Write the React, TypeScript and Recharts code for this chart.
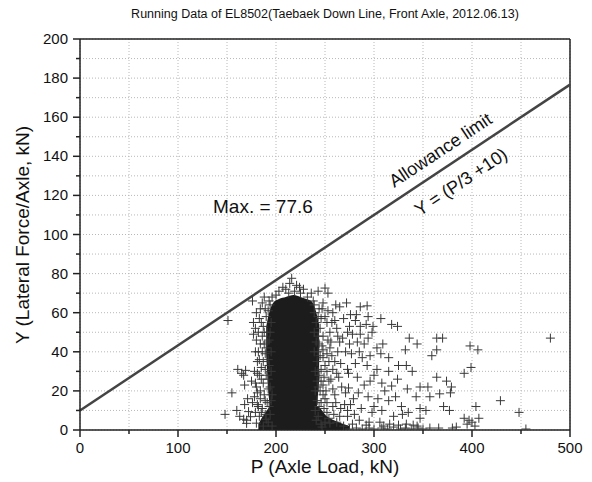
import React from "react";
import {
  ComposedChart,
  Scatter,
  Area,
  XAxis,
  YAxis,
  CartesianGrid,
  ReferenceLine,
} from "recharts";

const FONT = "'Liberation Sans', Arial, sans-serif";

// axis ticks
const xTicks = [0, 50, 100, 150, 200, 250, 300, 350, 400, 450, 500];
const yTicks = [0, 10, 20, 30, 40, 50, 60, 70, 80, 90, 100, 110, 120, 130, 140, 150, 160, 170, 180, 190, 200];

// allowance limit Y = P/3 + 10, end points
const limitP = [0, 500];
const limitY = [10, 176.67];

// dense core of the cloud (too many overlapping marks to count): outline as range per P
const coreP = [190, 193, 197, 203, 210, 218, 225, 231, 236, 240, 244];
const coreLo = [38, 15, 3, 0, 0, 0, 0, 0, 0, 5, 25];
const coreHi = [53, 60, 65, 67, 68, 69, 68, 67, 66, 62, 54];

// dark band at the bottom of the cloud
const baseP = [182, 188, 195, 242, 252, 264, 275];
const baseHi = [3, 8, 12, 12, 7, 4, 2];

// single readable marks, [P, Y]
const leftSparse = [
  [151, 56], [155, 19], [148, 8], [160, 10], [163, 7], [167, 5.5], [170, 3.4], [172, 9.4],
  [174, 6.8], [161, 31], [165, 29], [169, 30.5], [168, 13], [171, 16],
];

const leftHalo = [
  [176, 66], [177, 55], [179, 52], [177, 49], [184, 62], [190, 58], [187, 53], [184, 44],
  [189, 39], [185, 32], [187, 35], [167, 28], [168, 23], [179, 24], [175, 25], [181, 19],
  [190, 28], [192, 21], [176, 14], [186, 11], [170, 5], [180, 3.5], [190, 5.5], [193, 46],
  [193, 66], [183, 57], [186, 48], [191, 50], [182, 40], [188, 44], [192, 36], [183, 28],
  [187, 24], [184, 16], [189, 15], [193, 12], [179, 9], [183, 7], [187, 2], [194, 8],
  [181, 35], [192, 61], [195, 55], [195, 40], [195, 30], [196, 18], [178, 17], [182, 12],
  [180, 60], [186, 65], [189, 62], [182, 50], [185, 55], [188, 50], [191, 45], [194, 50],
  [180, 46], [183, 36], [186, 40], [190, 42], [193, 33], [181, 29], [185, 26], [189, 31],
  [192, 26], [194, 22], [180, 22], [184, 20], [188, 18], [191, 14], [195, 15], [181, 13],
  [185, 9], [189, 8], [192, 4], [196, 2], [178, 30], [179, 40], [188, 68], [194, 64],
];

const topHalo = [
  [196, 68], [203, 71], [210, 72], [216, 77.6], [221, 74], [228, 72], [236, 70], [200, 69],
  [207, 73], [213, 70], [219, 71], [225, 70], [232, 68], [238, 66], [243, 71], [250, 72.6],
  [253, 70], [248, 65], [214, 75], [224, 73],
];

const rightHalo = [
  [258, 60], [269, 57], [252, 55], [262, 52], [273, 50], [248, 48], [265, 45], [255, 42],
  [271, 40], [248, 37], [260, 35], [273, 31], [252, 30], [264, 27], [248, 23], [258, 21],
  [271, 19], [250, 16], [261, 14], [273, 10], [252, 9], [265, 7], [255, 3.5], [269, 2],
  [247, 1.5], [272, 65], [265, 63], [239, 60], [241, 55], [239, 50], [241, 45], [239, 40],
  [242, 35], [240, 30], [242, 25], [240, 20], [242, 15], [240, 10], [241, 5], [244, 62],
  [245, 52], [244, 44], [245, 38], [244, 28], [245, 20], [244, 12], [246, 3], [250, 58],
  [255, 50], [253, 46], [257, 38], [250, 33], [256, 26], [251, 20], [258, 12], [254, 6],
  [262, 4], [260, 18], [267, 22], [263, 40], [268, 47], [260, 56], [266, 34], [270, 13],
  [258, 31], [239, 64], [243, 58], [247, 62], [246, 57], [243, 48], [247, 43], [243, 40],
  [248, 41], [246, 31], [243, 30], [249, 27], [246, 25], [243, 22], [248, 18], [246, 14],
  [243, 7], [249, 11], [252, 14], [250, 4], [254, 25], [256, 45], [257, 55], [253, 61],
  [261, 64], [263, 48], [262, 29], [259, 8], [266, 11], [252, 39], [254, 35],
];

const midScatter = [
  [286, 63], [293, 63.5], [282, 59], [294, 58], [276, 59], [281, 56], [275, 53], [286, 53],
  [292, 54], [299, 53], [278, 49], [286, 49], [294, 47], [298, 50], [275, 44], [283, 45],
  [290, 44], [303, 42], [309, 44], [277, 39], [285, 40], [296, 38], [307, 39], [315, 37],
  [325, 33], [333, 33], [281, 34], [293, 33], [303, 31], [315, 30], [324, 26], [274, 29],
  [283, 27], [296, 25], [308, 24], [318, 22.5], [274, 21.5], [284, 19], [294, 17], [304, 16],
  [315, 15], [322, 17], [334, 21], [339, 30], [332, 41], [318, 54], [324, 53], [336, 47],
  [344, 44], [307, 57], [276, 13], [287, 11], [298, 9], [308, 10], [320, 7], [329, 8],
  [273, 7], [285, 5], [295, 4], [306, 4], [316, 3], [333, 3], [340, 2.5], [344, 2],
  [280, 8], [290, 23], [300, 28], [288, 37], [279, 16], [311, 20], [300, 12], [328, 12],
  [335, 9],
];

const farScatter = [
  [343, 17], [357, 17], [367, 18.5], [347, 22], [355, 22], [364, 27], [374, 25], [379, 22],
  [378, 19], [359, 38], [364, 41], [364, 47], [370, 47], [347, 11], [353, 10], [371, 12],
  [377, 10], [347, 6], [480, 47], [398, 43], [406, 41], [399, 32], [392, 29], [429, 15],
  [448, 9], [404, 12], [407, 6], [392, 6], [395, 3], [400, 4], [403, 2], [397, 5],
  [455, 0.5],
];

const bottomBand = [
  [275, 0.5], [282, 1], [288, 0.5], [295, 1], [300, 0.5], [308, 1], [314, 0.5], [320, 1.5],
  [327, 0.5], [332, 1], [338, 0.5], [345, 1], [350, 0.5], [278, 3], [292, 2.5], [310, 2],
  [325, 2.5], [357, 1], [366, 1], [380, 1], [384, 1.5],
];

const toPts = (arr: number[][]) => arr.map(([P, Y]) => ({ P, Y }));
const allPoints = [
  ...leftSparse, ...leftHalo, ...topHalo, ...rightHalo, ...midScatter, ...farScatter, ...bottomBand,
];
const coreData = coreP.map((P, i) => ({ P, range: [coreLo[i], coreHi[i]] }));
const baseData = baseP.map((P, i) => ({ P, range: [0, baseHi[i]] }));

const Plus = (props: any) => {
  const { cx, cy } = props;
  if (cx == null || cy == null) return null;
  const r = 4.5;
  return (
    <path
      d={`M${cx - r},${cy}H${cx + r}M${cx},${cy - r}V${cy + r}`}
      stroke="#383838"
      strokeWidth={1}
      fill="none"
    />
  );
};

const XTick = (props: any) => {
  const { x, y, payload } = props;
  const v = payload.value;
  const major = v % 100 === 0;
  return (
    <g>
      <line x1={x} x2={x} y1={y} y2={y + (major ? 7 : 4)} stroke="#222" strokeWidth={1.5} />
      {major && (
        <text x={x} y={y + 23} textAnchor="middle" fontSize={15} fill="#111" fontFamily={FONT}>
          {v}
        </text>
      )}
    </g>
  );
};

const YTick = (props: any) => {
  const { x, y, payload } = props;
  const v = payload.value;
  const major = v % 20 === 0;
  return (
    <g>
      <line x1={x} x2={x - (major ? 7 : 4)} y1={y} y2={y} stroke="#222" strokeWidth={1.5} />
      {major && (
        <text x={x - 12} y={y + 5} textAnchor="end" fontSize={15} fill="#111" fontFamily={FONT}>
          {v}
        </text>
      )}
    </g>
  );
};

export default function App() {
  const angle = -33.6;
  return (
    <div style={{ position: "absolute", left: 0, top: 0, width: 592, height: 482, background: "#fff" }}>
      <ComposedChart
        width={592}
        height={482}
        margin={{ top: 39, right: 22, bottom: 22, left: 20 }}
      >
        <CartesianGrid stroke="#b8b8b8" strokeDasharray="1 2" />
        <XAxis
          type="number"
          dataKey="P"
          domain={[0, 500]}
          ticks={xTicks}
          interval={0}
          height={30}
          tickSize={0}
          tickMargin={0}
          tickLine={false}
          axisLine={{ stroke: "#222", strokeWidth: 1.5 }}
          tick={<XTick />}
          allowDataOverflow
        />
        <YAxis
          type="number"
          dataKey="Y"
          domain={[0, 200]}
          ticks={yTicks}
          interval={0}
          width={60}
          tickSize={0}
          tickMargin={0}
          tickLine={false}
          axisLine={{ stroke: "#222", strokeWidth: 1.5 }}
          tick={<YTick />}
          allowDataOverflow
        />
        <ReferenceLine y={200} stroke="#222" strokeWidth={1.5} />
        <ReferenceLine x={500} stroke="#222" strokeWidth={1.5} />
        <Area
          data={baseData}
          dataKey="range"
          type="monotone"
          stroke="none"
          fill="#1c1c1c"
          fillOpacity={1}
          isAnimationActive={false}
          activeDot={false}
        />
        <Area
          data={coreData}
          dataKey="range"
          type="monotone"
          stroke="none"
          fill="#1c1c1c"
          fillOpacity={1}
          isAnimationActive={false}
          activeDot={false}
        />
        <Scatter data={toPts(allPoints)} shape={<Plus />} isAnimationActive={false} />
        <ReferenceLine
          segment={[
            { x: limitP[0], y: limitY[0] },
            { x: limitP[1], y: limitY[1] },
          ]}
          stroke="#444"
          strokeWidth={2.5}
        />
      </ComposedChart>
      <svg
        width={592}
        height={482}
        style={{ position: "absolute", left: 0, top: 0, pointerEvents: "none" }}
        fontFamily={FONT}
      >
        <text x={325} y={18} textAnchor="middle" fontSize={12.5} fill="#111">
          Running Data of EL8502(Taebaek Down Line, Front Axle, 2012.06.13)
        </text>
        <text x={213} y={213} fontSize={19} fill="#111">
          Max. = 77.6
        </text>
        <text
          x={441}
          y={156}
          textAnchor="middle"
          fontSize={18}
          fill="#111"
          transform={`rotate(${angle} 441 151)`}
        >
          Allowance limit
        </text>
        <text
          x={461}
          y={188}
          textAnchor="middle"
          fontSize={18}
          fill="#111"
          transform={`rotate(${angle} 461 182)`}
        >
          Y = (P/3 +10)
        </text>
        <text
          x={22}
          y={235}
          textAnchor="middle"
          dominantBaseline="central"
          fontSize={19}
          fill="#111"
          transform="rotate(-90 22 235)"
        >
          Y (Lateral Force/Axle, kN)
        </text>
        <text x={325} y={473} textAnchor="middle" fontSize={19} fill="#111">
          P (Axle Load, kN)
        </text>
      </svg>
    </div>
  );
}
